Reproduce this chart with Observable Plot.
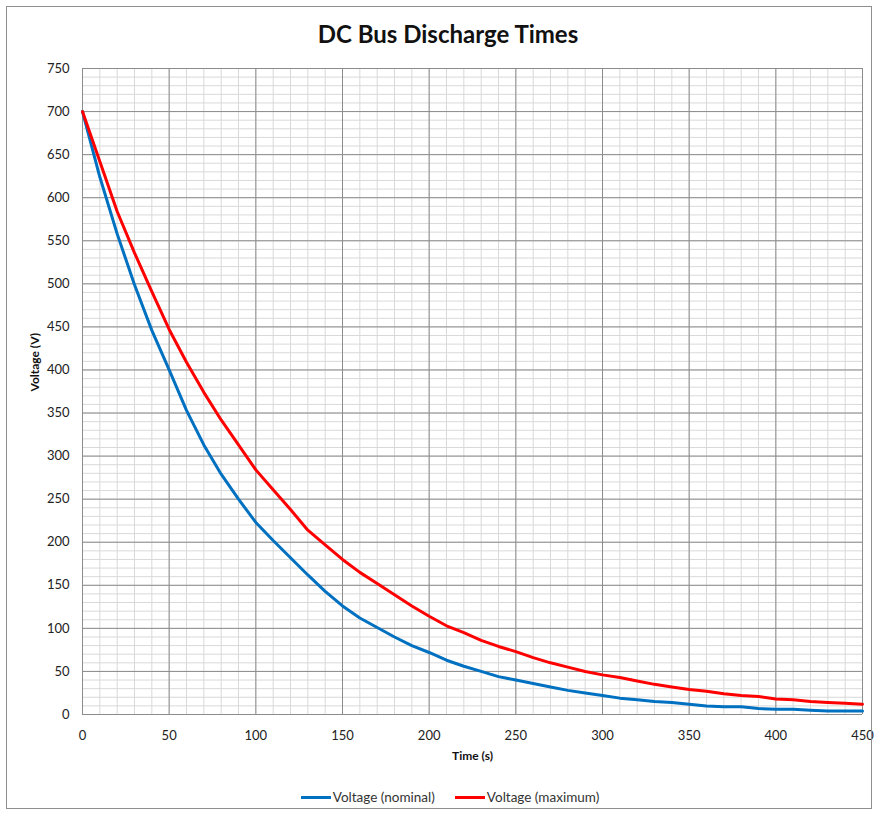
<!DOCTYPE html>
<html>
<head>
<meta charset="utf-8">
<script src="https://cdn.jsdelivr.net/npm/d3@7"></script>
<script src="https://cdn.jsdelivr.net/npm/@observablehq/plot@0.6"></script>
<style>
  body { margin: 0; background: #fff; }
  #wrap { position: relative; width: 878px; height: 815px; font-family: Lato, "Open Sans", sans-serif; }
  #frame { position: absolute; left: 6px; top: 6px; width: 864px; height: 801px; border: 1px solid #8f8f8f; pointer-events: none; }
  #title { height: 60px; box-sizing: border-box; padding-top: 19px; text-align: center; font-size: 24px; font-weight: bold; color: #111; padding-left: 18px; }
  #legend { height: 50px; display: flex; justify-content: center; align-items: center; gap: 20px; font-size: 13.5px; color: #333; padding-top: 14px; box-sizing: border-box; padding-left: 22px; }
  .item { display: flex; align-items: center; }
  .swatch { display: inline-block; width: 30px; height: 3px; margin-right: 2px; }
  svg { display: block; }
</style>
</head>
<body>
<div id="wrap">
  <div id="frame"></div>
  <div id="title">DC Bus Discharge Times</div>
  <div id="chart"></div>
  <div id="legend"></div>
</div>
<script>
const time = [0,10,20,30,40,50,60,70,80,90,100,110,120,130,140,150,160,170,180,190,200,210,220,230,240,250,260,270,280,290,300,310,320,330,340,350,360,370,380,390,400,410,420,430,440,450];
const voltageNominal = [700,624,558,499,446,400,353,313,279,250,223,202,182,162,143,126,112,101,90,80,72,63,56,50,44,40,36,32,28,25,22,19,17,15,14,12,10,9,9,7,6,6,5,4,4,4];
const voltageMaximum = [700,642,584,536,491,447,409,374,342,313,284,261,238,214,197,180,165,152,139,126,114,103,95,86,79,73,66,60,55,50,46,43,39,35,32,29,27,24,22,21,18,17,15,14,13,12];
const seriesNames = ["Voltage (nominal)", "Voltage (maximum)"];
const seriesColors = ["#0070C0", "#FF0000"];
const xTicks = [0,50,100,150,200,250,300,350,400,450];
const yTicks = [0,50,100,150,200,250,300,350,400,450,500,550,600,650,700,750];
const xMinorStep = 10, yMinorStep = 10;

const rows = [];
time.forEach((t, i) => {
  rows.push({t, v: voltageNominal[i], s: seriesNames[0]});
  rows.push({t, v: voltageMaximum[i], s: seriesNames[1]});
});
const xMinor = d3.range(0, 450 + 1e-9, xMinorStep);
const yMinor = d3.range(0, 750 + 1e-9, yMinorStep);

const chart = Plot.plot({
  width: 878,
  height: 705,
  marginLeft: 82,
  marginRight: 16,
  marginTop: 8,
  marginBottom: 51,
  style: {fontFamily: "Lato, 'Open Sans', sans-serif", fontSize: "13px", color: "#222", background: "#fff"},
  x: {domain: [0, 450], ticks: xTicks, tickSize: 0, tickPadding: 15, label: null},
  y: {domain: [0, 750], ticks: yTicks, tickSize: 0, tickPadding: 13, label: null},
  color: {domain: seriesNames, range: seriesColors},
  marks: [
    Plot.ruleX(xMinor, {stroke: "#d9d9d9", strokeWidth: 1}),
    Plot.ruleY(yMinor, {stroke: "#d9d9d9", strokeWidth: 1}),
    Plot.ruleX(xTicks, {stroke: "#8c8c8c", strokeWidth: 1}),
    Plot.ruleY(yTicks, {stroke: "#8c8c8c", strokeWidth: 1}),
    Plot.line(rows, {x: "t", y: "v", z: "s", stroke: "s", strokeWidth: 3, strokeLinejoin: "round", curve: "linear"}),
    Plot.axisX({ticks: xTicks, tickSize: 0, tickPadding: 16, label: null}),
    Plot.axisY({ticks: yTicks, tickSize: 0, tickPadding: 13, label: null}),
    Plot.text(["Time (s)"], {frameAnchor: "bottom", dy: 45, fontWeight: "bold", fontSize: 12, fill: "#111"}),
    Plot.text(["Voltage (V)"], {frameAnchor: "left", dx: -47, rotate: -90, fontWeight: "bold", fontSize: 12, fill: "#111"})
  ]
});
document.getElementById("chart").appendChild(chart);

const legend = document.getElementById("legend");
seriesNames.forEach((name, i) => {
  const item = document.createElement("div");
  item.className = "item";
  const sw = document.createElement("span");
  sw.className = "swatch";
  sw.style.background = seriesColors[i];
  const label = document.createElement("span");
  label.textContent = name;
  item.appendChild(sw);
  item.appendChild(label);
  legend.appendChild(item);
});
</script>
</body>
</html>
